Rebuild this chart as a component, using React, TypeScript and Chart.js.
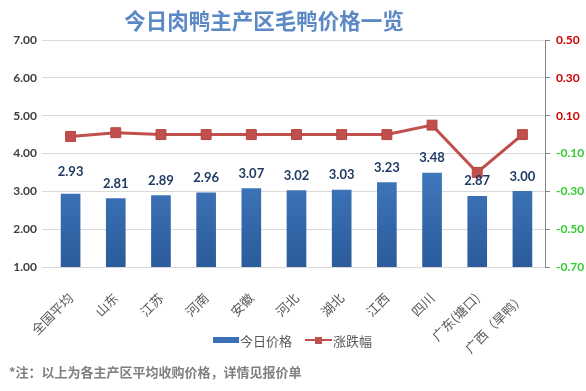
import React, { useEffect, useRef } from "react";
import { Chart, registerables } from "chart.js";
Chart.register(...registerables);

const categories = ["全国平均", "山东", "江苏", "河南", "安徽", "河北", "湖北", "江西", "四川", "广东(塘口)", "广西（旱鸭）"];
const todayPrice = [2.93, 2.81, 2.89, 2.96, 3.07, 3.02, 3.03, 3.23, 3.48, 2.87, 3.0];
const priceChange = [-0.01, 0.01, 0, 0, 0, 0, 0, 0, 0.05, -0.2, 0];
const leftMin = 1, leftMax = 7, leftStep = 1;
const rightMin = -0.7, rightMax = 0.5, rightStep = 0.2;

const NUM_FONT = "Lato, 'Noto Sans CJK SC', sans-serif";
const CJK_FONT = "'Noto Sans CJK SC', sans-serif";

const barLabelPlugin = {
  id: "barLabels",
  afterDatasetsDraw(chart: any) {
    const ctx = chart.ctx;
    const meta = chart.getDatasetMeta(1);
    ctx.save();
    ctx.font = "bold 13px " + NUM_FONT;
    ctx.fillStyle = "#1f3b64";
    ctx.textAlign = "center";
    ctx.textBaseline = "middle";
    meta.data.forEach((bar: any, i: number) => {
      ctx.fillText(todayPrice[i].toFixed(2), bar.x, bar.y - (i === 0 ? 22 : 15));
    });
    ctx.restore();
  },
};

export default function App() {
  const ref = useRef<HTMLCanvasElement>(null);
  useEffect(() => {
    if (!ref.current) return;
    const chart = new Chart(ref.current, {
      type: "bar",
      data: {
        labels: categories,
        datasets: [
          {
            type: "line",
            label: "涨跌幅",
            data: priceChange,
            yAxisID: "y1",
            borderColor: "#c0504d",
            backgroundColor: "#c0504d",
            borderWidth: 3,
            pointStyle: "rect",
            pointRadius: 7,
            pointBorderWidth: 1,
            pointBackgroundColor: "#c0504d",
            pointBorderColor: "#b9433f",
            order: 0,
          } as any,
          {
            type: "bar",
            label: "今日价格",
            data: todayPrice,
            yAxisID: "y",
            barThickness: 19,
            backgroundColor: (c: any) => {
              const area = c.chart.chartArea;
              if (!area) return "#3b6fb6";
              const g = c.chart.ctx.createLinearGradient(0, area.top + 80, 0, area.bottom);
              g.addColorStop(0, "#4a86cf");
              g.addColorStop(1, "#2b5b9a");
              return g;
            },
            order: 1,
          } as any,
        ],
      },
      options: {
        animation: false,
        responsive: false,
        layout: { padding: { top: 40, left: 0, right: 0, bottom: 0 } },
        plugins: { legend: { display: false }, title: { display: false }, tooltip: { enabled: false } },
        scales: {
          x: {
            grid: { display: false },
            border: { display: false },
            ticks: {
              minRotation: 45,
              maxRotation: 45,
              autoSkip: false,
              padding: 15,
              color: "#595959",
              font: { size: 13, family: CJK_FONT },
            },
            afterFit: (s: any) => { s.height = 124; },
          },
          y: {
            position: "left",
            min: leftMin,
            max: leftMax,
            grid: { color: "#d9d9d9", tickLength: 6, lineWidth: 1 },
            border: { display: false },
            ticks: {
              stepSize: leftStep,
              padding: 5,
              color: "#404040",
              font: { size: 12, weight: "bold", family: NUM_FONT },
              callback: (v: any) => Number(v).toFixed(2),
            },
            afterFit: (s: any) => { s.width = 48; },
          },
          y1: {
            position: "right",
            min: rightMin,
            max: rightMax,
            grid: { drawOnChartArea: false, color: "#868686", tickLength: 5 },
            border: { display: true, color: "#868686" },
            ticks: {
              stepSize: rightStep,
              padding: 6,
              color: (c: any) => (c.tick && c.tick.value > 0 ? "#d00000" : "#33cc33"),
              font: { size: 12, weight: "bold", family: NUM_FONT },
              callback: (v: any) => {
                const n = Math.round(Number(v) * 100) / 100;
                return n.toFixed(2);
              },
            },
            afterFit: (s: any) => { s.width = 41; },
          },
        },
      },
      plugins: [barLabelPlugin],
    });
    return () => chart.destroy();
  }, []);

  return (
    <div style={{ position: "fixed", left: 0, top: 0, width: 586, height: 391, background: "#ffffff", overflow: "hidden" }}>
      <canvas ref={ref} width={586} height={391} style={{ position: "absolute", left: 0, top: 0, width: 586, height: 391 }} />
      <div
        style={{
          position: "absolute",
          left: 114,
          width: 300,
          top: 6,
          textAlign: "center",
          fontFamily: CJK_FONT,
          fontWeight: "bold",
          fontSize: 21.5,
          lineHeight: "28px",
          color: "#5b89c6",
          whiteSpace: "nowrap",
        }}
      >
        今日肉鸭主产区毛鸭价格一览
      </div>
      <div
        style={{
          position: "absolute",
          left: 213,
          top: 330,
          height: 20,
          display: "flex",
          alignItems: "center",
          fontFamily: CJK_FONT,
          fontSize: 13,
          color: "#595959",
          whiteSpace: "nowrap",
        }}
      >
        <span style={{ display: "inline-block", width: 26, height: 6, background: "#3b6fb6", marginRight: 1 }} />
        <span>今日价格</span>
        <span style={{ display: "inline-block", position: "relative", width: 27, height: 10, marginLeft: 13, marginRight: 1 }}>
          <span style={{ position: "absolute", left: 0, top: 4, width: 27, height: 2, background: "#c0504d" }} />
          <span style={{ position: "absolute", left: 10, top: 1.5, width: 7, height: 7, background: "#c0504d" }} />
        </span>
        <span>涨跌幅</span>
      </div>
      <div
        style={{
          position: "absolute",
          left: 9,
          top: 362,
          fontFamily: CJK_FONT,
          fontSize: 13,
          fontWeight: "bold",
          color: "#7f7f7f",
          whiteSpace: "nowrap",
        }}
      >
        *注：以上为各主产区平均收购价格，详情见报价单
      </div>
    </div>
  );
}
